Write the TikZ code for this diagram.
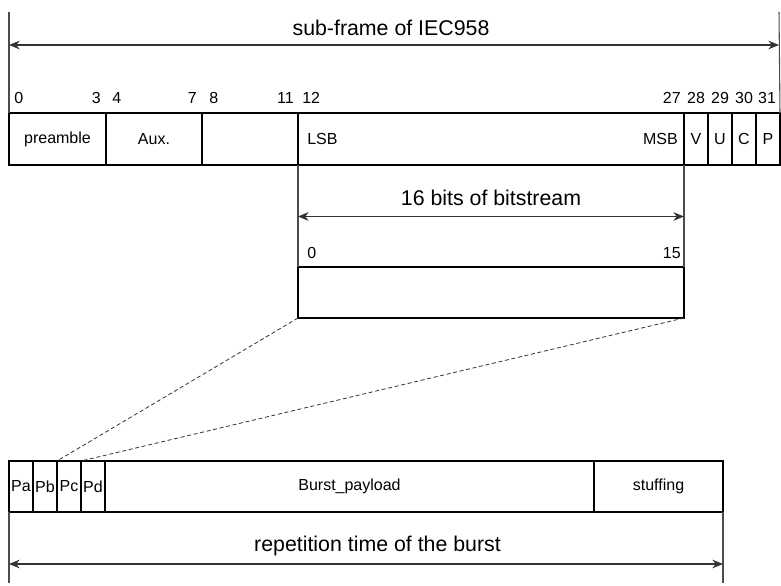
\documentclass[tikz,border=0pt]{standalone}
\usepackage{fontspec}
\setmainfont{Liberation Sans}
\usetikzlibrary{arrows.meta}
\begin{document}
\begin{tikzpicture}[x=0.75pt,y=-0.75pt,
  cell/.style={draw=black,line width=1.5pt,rectangle,inner sep=0pt,outer sep=0pt,
    minimum height=38.6pt,font=\fontsize{12}{14}\selectfont},
  lbl/.style={inner sep=0pt,font=\fontsize{12}{14}\selectfont},
  big/.style={inner sep=0pt,font=\fontsize{16}{19}\selectfont},
  ext/.style={draw=black!70,line width=0.8pt},
  dim/.style={draw=black!80,line width=0.8pt,{Stealth[length=8pt,width=6.5pt]}-{Stealth[length=8pt,width=6.5pt]}},
  dsh/.style={draw=black!80,line width=0.6pt,dash pattern=on 3pt off 2pt}]
\useasboundingbox (0,0) rectangle (781,585);
% ---- top sub-frame ----
\node[cell,minimum width=72.75pt] (pre) at (57.5,139) {preamble};
\node[cell,minimum width=72pt] (aux) at (154,139) {Aux.};
\node[cell,minimum width=72pt] (blk) at (250,139) {};
\node[cell,minimum width=289.5pt] (dat) at (491,139) {};
\node[cell,minimum width=18pt] (v) at (696,139) {V};
\node[cell,minimum width=18pt] (u) at (720,139) {U};
\node[cell,minimum width=18pt] (c) at (744,139) {C};
\node[cell,minimum width=18pt] (p) at (768,139) {P};
\node[lbl,anchor=west] (lsb) at (307,139) {LSB};
\node[lbl,anchor=east] (msb) at (678,139) {MSB};
% bit numbers
\node[lbl,anchor=west] (n0) at (14,98) {0};
\node[lbl,anchor=east] (n3) at (101,98) {3};
\node[lbl,anchor=west] (n4) at (112,98) {4};
\node[lbl,anchor=east] (n7) at (197,98) {7};
\node[lbl,anchor=west] (n8) at (209,98) {8};
\node[lbl,anchor=east] (n11) at (294,98) {11};
\node[lbl,anchor=west] (n12) at (302,98) {12};
\node[lbl,anchor=east] (n27) at (681,98) {27};
\node[lbl] (n28) at (696,98) {28};
\node[lbl] (n29) at (720,98) {29};
\node[lbl] (n30) at (744,98) {30};
\node[lbl] (n31) at (767,98) {31};
% top dimension
\coordinate (tl) at (9,12);
\coordinate (tr) at (779,12);
\draw[ext] (tl) -- (pre.north west);
\draw[ext] (tr) -- (p.north east);
\coordinate (tal) at (9,45);
\coordinate (tar) at (779,45);
\draw[dim] (tal) -- (tar);
\node[big] (ttl) at (391,28) {sub-frame of IEC958};
% ---- middle 16 bits ----
\node[cell,minimum width=289.5pt,minimum height=38.25pt] (mid) at (491,292.5) {};
\draw[ext] (dat.south west) -- (mid.north west);
\draw[ext] (dat.south east) -- (mid.north east);
\coordinate (mal) at (298,216.5);
\coordinate (mar) at (684,216.5);
\draw[dim] (mal) -- (mar);
\node[big] (mttl) at (491,198) {16 bits of bitstream};
\node[lbl,anchor=west] (m0) at (307,253) {0};
\node[lbl,anchor=east] (m15) at (681,253) {15};
% ---- bottom burst ----
\node[cell,minimum width=18pt,minimum height=38.25pt] (pa) at (21,486.5) {Pa};
\node[cell,minimum width=18pt,minimum height=38.25pt] (pb) at (45,486.5) {Pb};
\node[cell,minimum width=18pt,minimum height=38.25pt] (pc) at (69,486.5) {Pc};
\node[cell,minimum width=18pt,minimum height=38.25pt] (pd) at (93,486.5) {Pd};
\node[cell,minimum width=366.75pt,minimum height=38.25pt] (pay) at (349.5,486.5) {Burst\_payload};
\node[cell,minimum width=96.75pt,minimum height=38.25pt] (stf) at (658.5,486.5) {stuffing};
\draw[dsh] (mid.south west) -- (pc.north west);
\draw[dsh] (mid.south east) -- (pd.north west);
\coordinate (bl) at (9,583);
\coordinate (br) at (723,583);
\draw[ext] (pa.south west) -- (bl);
\draw[ext] (stf.south east) -- (br);
\coordinate (bal) at (9,564);
\coordinate (bar) at (723,564);
\draw[dim] (bal) -- (bar);
\node[big] (bttl) at (377.5,546) {repetition time of the burst};
\end{tikzpicture}
\end{document}
